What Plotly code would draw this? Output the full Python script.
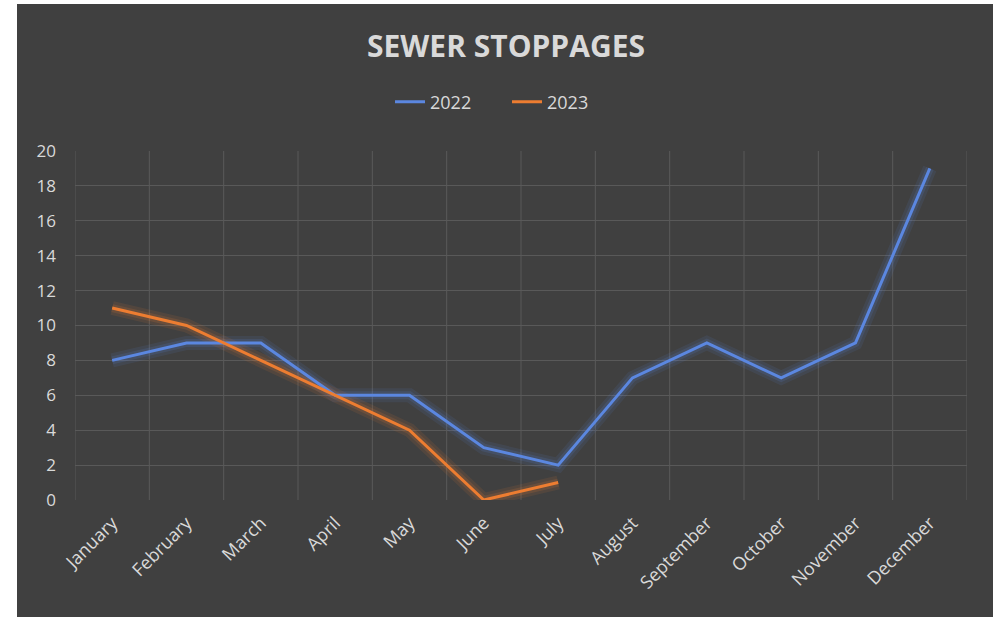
import plotly.graph_objects as go

months = ["January", "February", "March", "April", "May", "June", "July",
          "August", "September", "October", "November", "December"]
stoppages_2022 = [8, 9, 9, 6, 6, 3, 2, 7, 9, 7, 9, 19]
stoppages_2023 = [11, 10, 8, 6, 4, 0, 1]
y_ticks = [0, 2, 4, 6, 8, 10, 12, 14, 16, 18, 20]

BG = "#404040"
GRID = "#595959"
TXT = "#d9d9d9"
BLUE = "#5b87e0"
ORANGE = "#ed7d31"
FONT = "Open Sans"

W, H = 999, 619
L, R, T, B = 75, 32, 151, 119
pw, ph = W - L - R, H - T - B

fig = go.Figure()
# soft glow traces
for ys, col in [(stoppages_2022, BLUE), (stoppages_2023, ORANGE)]:
    fig.add_trace(go.Scatter(x=months[:len(ys)], y=ys, mode="lines",
                             line=dict(color=col, width=14), opacity=0.10,
                             showlegend=False, hoverinfo="skip"))
    fig.add_trace(go.Scatter(x=months[:len(ys)], y=ys, mode="lines",
                             line=dict(color=col, width=8), opacity=0.15,
                             showlegend=False, hoverinfo="skip"))
fig.add_trace(go.Scatter(x=months, y=stoppages_2022, mode="lines", name="2022",
                         line=dict(color=BLUE, width=3)))
fig.add_trace(go.Scatter(x=months[:len(stoppages_2023)], y=stoppages_2023,
                         mode="lines", name="2023",
                         line=dict(color=ORANGE, width=3)))


def px_x(p):
    return (p - L) / pw


def px_y(p):
    return (H - B - p) / ph


fig.add_shape(type="rect", xref="paper", yref="paper",
              x0=px_x(17), x1=px_x(993), y0=px_y(617), y1=px_y(4),
              fillcolor=BG, line=dict(width=0), layer="below")

fig.update_layout(
    width=W, height=H,
    margin=dict(l=L, r=R, t=T, b=B),
    paper_bgcolor="white",
    plot_bgcolor=BG,
    font=dict(family=FONT, color=TXT, size=17),
    title=dict(text="<b>SEWER STOPPAGES</b>", x=506 / W, xanchor="center",
               y=1 - 46 / H, yanchor="middle",
               font=dict(size=30, color=TXT, family=FONT)),
    legend=dict(orientation="h", x=px_x(507), xanchor="center",
                y=px_y(102), yanchor="middle", font=dict(size=18, color=TXT),
                bgcolor="rgba(0,0,0,0)", entrywidth=72, itemwidth=30),
    showlegend=True,
)
fig.update_xaxes(type="category", categoryorder="array", categoryarray=months,
                 range=[-0.5, 11.5], showgrid=False, tickangle=-45,
                 tickfont=dict(size=18, color=TXT), ticks="", zeroline=False,
                 showline=False, ticklabelstandoff=8)
# vertical gridlines between categories
for i in range(13):
    fig.add_shape(type="line", xref="x", yref="y", x0=i - 0.5, x1=i - 0.5,
                  y0=0, y1=20, line=dict(color=GRID, width=1), layer="below")
fig.update_yaxes(range=[0, 20], tickvals=y_ticks, showgrid=True, gridcolor=GRID,
                 gridwidth=1, zeroline=False, showline=False,
                 tickfont=dict(size=17, color=TXT), ticks="", ticklabelstandoff=18)

fig.write_html("out.html", post_script="document.body.style.margin='0';",
               config={"displayModeBar": False})
